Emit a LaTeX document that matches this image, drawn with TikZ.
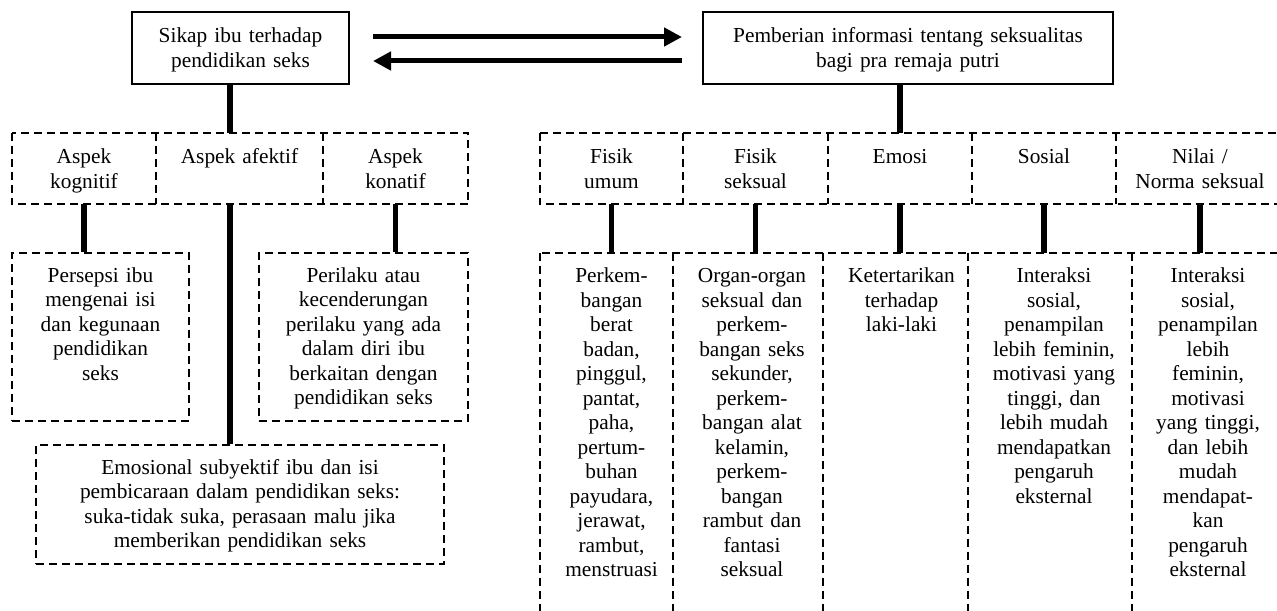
\documentclass[tikz,border=0pt]{standalone}
\usepackage{fontspec}
\setmainfont{Liberation Serif}
\usetikzlibrary{arrows.meta}
\begin{document}
\begin{tikzpicture}[x=0.5pt,y=-0.5pt]
	\tikzstyle{every node}+=[inner sep=0pt, font=\fontsize{10.67pt}{12.25pt}\selectfont]
	\tikzstyle{solidbox}=[draw=black, line width=1pt]
	\tikzstyle{dashline}=[draw=black, line width=0.95pt, dash pattern=on 4pt off 2.5pt]
	\tikzstyle{dashbox}=[dashline]
	\tikzstyle{cell}=[]
	\tikzstyle{txt}=[anchor=base, align=center]
	\tikzstyle{conn}=[line width=2.6pt]
	\tikzstyle{arr}=[line width=2.5pt, -{Triangle[length=9pt,width=9pt]}]
	\useasboundingbox (0,0) rectangle (1277,610);
	\clip (0,0) rectangle (1277,610);
	\node[solidbox, minimum width=108.5pt, minimum height=36pt] (sikap) at (240.5,48) {};
	\node[txt, text width=105pt] (sikapT) at ([yshift=-16pt]sikap.north) {Sikap ibu terhadap\\pendidikan seks};
	\node[solidbox, minimum width=205pt, minimum height=36pt] (beri) at (908,48) {};
	\node[txt, text width=200pt] (beriT) at ([yshift=-16pt]beri.north) {Pemberian informasi tentang seksualitas\\bagi pra remaja putri};
	\draw[arr, shorten <=11.5pt, shorten >=10pt] ([yshift=5.5pt]sikap.east) -- ([yshift=5.5pt]sikap.east -| beri.west);
	\draw[arr, shorten <=10pt, shorten >=11.5pt] ([yshift=-6.5pt]beri.west) -- ([yshift=-6.5pt]beri.west -| sikap.east);
	\node[cell, minimum width=72pt, minimum height=35.5pt] (kog) at (84,168.5) {};
	\node[txt, text width=68pt] (kogT) at ([yshift=-15.5pt]kog.north) {Aspek\\kognitif};
	\node[cell, minimum width=83.5pt, minimum height=35.5pt] (afek) at (239.5,168.5) {};
	\node[txt, text width=80pt] (afekT) at ([yshift=-15.5pt]afek.north) {Aspek afektif};
	\node[cell, minimum width=72.5pt, minimum height=35.5pt] (kona) at (395.5,168.5) {};
	\node[txt, text width=68pt] (konaT) at ([yshift=-15.5pt]kona.north) {Aspek\\konatif};
	\draw[dashline] (kog.north west) rectangle (kona.south east);
	\draw[dashline] (kog.north east) -- (kog.south east);
	\draw[dashline] (afek.north east) -- (afek.south east);
	\node[cell, minimum width=71.5pt, minimum height=35.5pt] (fum) at (611.5,168.5) {};
	\node[txt, text width=68pt] (fumT) at ([yshift=-15.5pt]fum.north) {Fisik\\umum};
	\node[cell, minimum width=72.5pt, minimum height=35.5pt] (fsek) at (755.5,168.5) {};
	\node[txt, text width=68pt] (fsekT) at ([yshift=-15.5pt]fsek.north) {Fisik\\seksual};
	\node[cell, minimum width=72pt, minimum height=35.5pt] (emo) at (900,168.5) {};
	\node[txt, text width=68pt] (emoT) at ([yshift=-15.5pt]emo.north) {Emosi};
	\node[cell, minimum width=72pt, minimum height=35.5pt] (sos) at (1044,168.5) {};
	\node[txt, text width=68pt] (sosT) at ([yshift=-15.5pt]sos.north) {Sosial};
	\node[cell, minimum width=84pt, minimum height=35.5pt] (nil) at (1200,168.5) {};
	\node[txt, text width=80pt] (nilT) at ([yshift=-15.5pt]nil.north) {Nilai /\\Norma seksual};
	\draw[dashline] (fum.north west) rectangle (nil.south east);
	\draw[dashline] (fum.north east) -- (fum.south east);
	\draw[dashline] (fsek.north east) -- (fsek.south east);
	\draw[dashline] (emo.north east) -- (emo.south east);
	\draw[dashline] (sos.north east) -- (sos.south east);
	\node[dashbox, minimum width=88.5pt, minimum height=84pt] (persepsi) at (100.5,337) {};
	\node[txt, text width=84pt] (persepsiT) at ([yshift=-15pt]persepsi.north) {Persepsi ibu\\mengenai isi\\dan kegunaan\\pendidikan\\seks};
	\node[dashbox, minimum width=104.5pt, minimum height=84pt] (perilaku) at (363.5,337) {};
	\node[txt, text width=100pt] (perilakuT) at ([yshift=-15pt]perilaku.north) {Perilaku atau\\kecenderungan\\perilaku yang ada\\dalam diri ibu\\berkaitan dengan\\pendidikan seks};
	\node[dashbox, minimum width=204pt, minimum height=59.5pt] (emosional) at (240,504.5) {};
	\node[txt, text width=200pt] (emosionalT) at ([yshift=-15pt]emosional.north) {Emosional subyektif ibu dan isi\\pembicaraan dalam pendidikan seks:\\suka-tidak suka, perasaan malu jika\\memberikan pendidikan seks};
	\node[cell, minimum width=66.5pt, minimum height=198.5pt] (rA) at (606.5,451.5) {};
	\node[txt, text width=64pt, xshift=2.5pt] (rAT) at ([yshift=-15pt]rA.north) {Perkem-\\bangan\\berat\\badan,\\pinggul,\\pantat,\\paha,\\pertum-\\buhan\\payudara,\\jerawat,\\rambut,\\menstruasi};
	\node[cell, minimum width=75pt, minimum height=198.5pt] (rB) at (748,451.5) {};
	\node[txt, text width=72pt, xshift=2pt] (rBT) at ([yshift=-15pt]rB.north) {Organ-organ\\seksual dan\\perkem-\\bangan seks\\sekunder,\\perkem-\\bangan alat\\kelamin,\\perkem-\\bangan\\rambut dan\\fantasi\\seksual};
	\node[cell, minimum width=72.5pt, minimum height=198.5pt] (rC) at (895.5,451.5) {};
	\node[txt, text width=70pt, xshift=3pt] (rCT) at ([yshift=-15pt]rC.north) {Ketertarikan\\terhadap\\laki-laki};
	\node[cell, minimum width=82pt, minimum height=198.5pt] (rD) at (1050,451.5) {};
	\node[txt, text width=78pt, xshift=2pt] (rDT) at ([yshift=-15pt]rD.north) {Interaksi\\sosial,\\penampilan\\lebih feminin,\\motivasi yang\\tinggi, dan\\lebih mudah\\mendapatkan\\pengaruh\\eksternal};
	\node[cell, minimum width=76pt, minimum height=198.5pt] (rE) at (1208,451.5) {};
	\node[txt, text width=72pt] (rET) at ([yshift=-15pt]rE.north) {Interaksi\\sosial,\\penampilan\\lebih\\feminin,\\motivasi\\yang tinggi,\\dan lebih\\mudah\\mendapat-\\kan\\pengaruh\\eksternal};
	\draw[dashline] (rA.north west) rectangle (rE.south east);
	\draw[dashline] (rA.north east) -- (rA.south east);
	\draw[dashline] (rB.north east) -- (rB.south east);
	\draw[dashline] (rC.north east) -- (rC.south east);
	\draw[dashline] (rD.north east) -- (rD.south east);
	\draw[conn] ([xshift=-5.25pt]sikap.south) -- ([xshift=-5.25pt]sikap.south |- afek.north);
	\draw[conn] (beri.south -| emo.north) -- (emo.north);
	\draw[conn] (kog.south) -- (kog.south |- persepsi.north);
	\draw[conn] ([xshift=-4.75pt]afek.south) -- ([xshift=-4.75pt]afek.south |- emosional.north);
	\draw[conn] (kona.south) -- (kona.south |- perilaku.north);
	\draw[conn] (fum.south) -- (fum.south |- rA.north);
	\draw[conn] (fsek.south) -- (fsek.south |- rB.north);
	\draw[conn] (emo.south) -- (emo.south |- rC.north);
	\draw[conn] (sos.south) -- (sos.south |- rD.north);
	\draw[conn] (nil.south) -- (nil.south |- rE.north);
\end{tikzpicture}
\end{document}
